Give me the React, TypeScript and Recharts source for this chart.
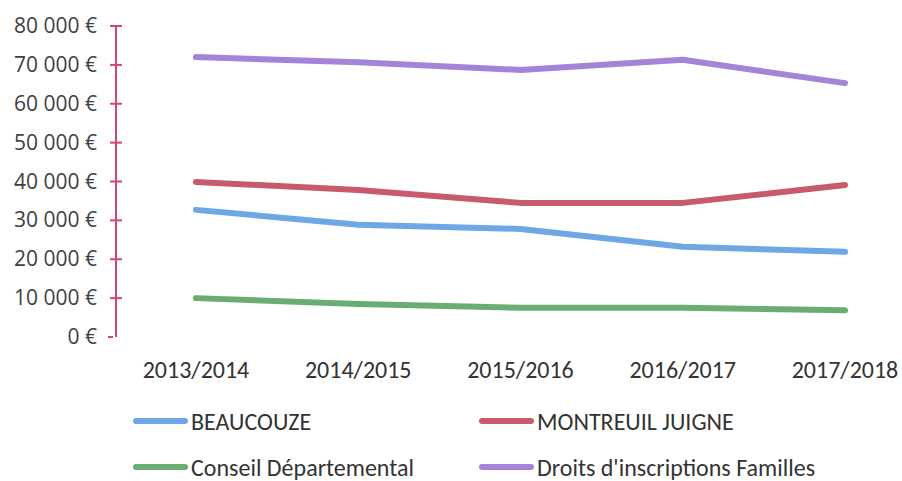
import React from "react";
import { LineChart, Line, XAxis, YAxis, Legend } from "recharts";

const years = ["2013/2014", "2014/2015", "2015/2016", "2016/2017", "2017/2018"];
const beaucouze = [32700, 28900, 27800, 23200, 21900];
const montreuil = [39900, 37800, 34500, 34500, 39100];
const conseil = [10000, 8500, 7500, 7500, 6900];
const droits = [72000, 70700, 68700, 71300, 65300];
const yTicks = [0, 10000, 20000, 30000, 40000, 50000, 60000, 70000, 80000];

const seriesNames = ["BEAUCOUZE", "MONTREUIL JUIGNE", "Conseil Départemental", "Droits d'inscriptions Familles"];
const seriesColors = ["#6ea7e6", "#c85a6e", "#6aad72", "#a384d8"];
const seriesKeys = ["beaucouze", "montreuil", "conseil", "droits"];

const data = years.map((y, i) => ({
  year: y,
  beaucouze: beaucouze[i],
  montreuil: montreuil[i],
  conseil: conseil[i],
  droits: droits[i],
}));

const AXIS_COLOR = "#d0486e";
const narrowFont = "Carlito, 'Liberation Sans Narrow', 'Open Sans', sans-serif";

const fmt = (v: number) => {
  if (v === 0) return "0 €";
  const s = String(v);
  return s.slice(0, s.length - 3) + " " + s.slice(-3) + " €";
};

const YTick = (props: any) => {
  const { x, y, payload } = props;
  const v = payload.value;
  return (
    <g>
      <text x={x - 19} y={y + 7} textAnchor="end" fill="#404040" fontSize={21} fontFamily="'Open Sans', sans-serif">
        {fmt(v)}
      </text>
      {v === 0 ? (
        <line x1={x - 8} x2={x - 3} y1={y} y2={y} stroke={AXIS_COLOR} strokeWidth={2} />
      ) : (
        <line x1={x - 6} x2={x + 6} y1={y} y2={y} stroke={AXIS_COLOR} strokeWidth={2} />
      )}
    </g>
  );
};

const XTick = (props: any) => {
  const { x, y, payload } = props;
  return (
    <text x={x} y={y + 41} textAnchor="middle" fill="#333333" fontSize={24} fontFamily={narrowFont}>
      {payload.value}
    </text>
  );
};

const LegendContent = () => {
  const pos = [
    { left: 133, top: 34 },
    { left: 479, top: 34 },
    { left: 133, top: 80 },
    { left: 479, top: 80 },
  ];
  return (
    <div style={{ position: "relative", width: 902, height: 94 }}>
      {seriesNames.map((n, i) => (
        <div
          key={n}
          style={{
            position: "absolute",
            left: pos[i].left,
            top: pos[i].top - 14,
            height: 28,
            display: "flex",
            alignItems: "center",
            whiteSpace: "nowrap",
          }}
        >
          <div style={{ width: 55, height: 6, borderRadius: 3, background: seriesColors[i], marginRight: 3 }} />
          <span style={{ fontFamily: narrowFont, fontSize: 24, color: "#333333" }}>{n}</span>
        </div>
      ))}
    </div>
  );
};

export default function App() {
  return (
    <div style={{ position: "absolute", left: 0, top: 0, background: "#fff" }}>
      <LineChart width={902} height={481} data={data} margin={{ top: 26, right: 12, left: 0, bottom: 0 }}>
        <XAxis
          dataKey="year"
          axisLine={false}
          tickLine={false}
          tickSize={0}
          tickMargin={0}
          height={50}
          padding={{ left: 80, right: 45 }}
          tick={<XTick />}
          interval={0}
        />
        <YAxis
          width={116}
          domain={[0, 80000]}
          ticks={yTicks}
          interval={0}
          axisLine={{ stroke: AXIS_COLOR, strokeWidth: 2 }}
          tickLine={false}
          tickSize={0}
          tickMargin={0}
          tick={<YTick />}
        />
        <Legend verticalAlign="bottom" height={94} content={<LegendContent />} wrapperStyle={{ left: 0, bottom: 0, width: 902, height: 94 }} />
        {seriesKeys.map((k, i) => (
          <Line
            key={k}
            dataKey={k}
            name={seriesNames[i]}
            stroke={seriesColors[i]}
            strokeWidth={6}
            dot={false}
            activeDot={false}
            strokeLinecap="round"
            strokeLinejoin="round"
            isAnimationActive={false}
          />
        ))}
      </LineChart>
    </div>
  );
}
